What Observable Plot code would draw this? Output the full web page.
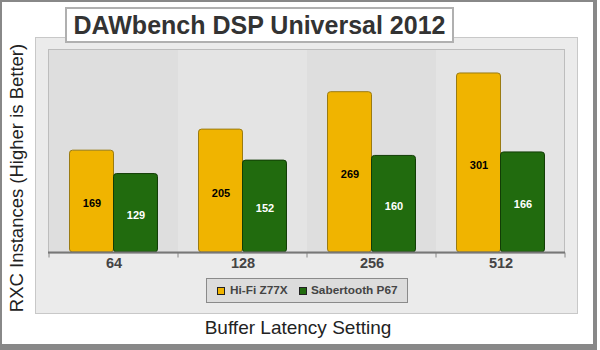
<!DOCTYPE html>
<html>
<head>
<meta charset="utf-8">
<script src="https://cdn.jsdelivr.net/npm/d3@7"></script>
<script src="https://cdn.jsdelivr.net/npm/@observablehq/plot@0.6"></script>
<style>
  html, body { margin: 0; padding: 0; background: #fff; }
  #wrap { position: relative; width: 600px; height: 350px; overflow: hidden; font-family: "Liberation Sans", Arial, sans-serif; background: #fff; }
  #frame { position: absolute; left: 0; top: 0; width: 591px; height: 342px; border-style: solid; border-color: #888; border-width: 2px 4px 6px 2px; }
  #panel { position: absolute; left: 35px; top: 37px; width: 541px; height: 275px; background: #ebebeb; border: 1px solid #c8c8c8; }
  #title { position: absolute; left: 65px; top: 7px; width: 385px; height: 32px; background: #fff; border: 2px solid #b0b0b0; text-align: center; font-weight: bold; font-size: 25px; line-height: 33px; color: #333; }
  #chart { position: absolute; left: 0; top: 0; }
  #ytitle { position: absolute; left: 17px; top: 178px; transform: translate(-50%, -50%) rotate(-90deg); white-space: nowrap; font-size: 18.5px; color: #222; }
  #xtitle { position: absolute; left: 298px; top: 328px; transform: translate(-50%, -50%); white-space: nowrap; font-size: 19px; color: #222; }
  #legend { position: absolute; left: 206px; top: 278px; width: 200px; height: 23px; background: #dcdcdc; border: 1px solid #8a8a8a; }
  .sw { position: absolute; top: 8px; width: 6px; height: 6px; border: 1px solid #222; }
  .lt { position: absolute; top: 4px; font-size: 11.8px; font-weight: bold; color: #444; white-space: nowrap; line-height: 14px; }
</style>
</head>
<body>
<div id="wrap">
  <div id="frame"></div>
  <div id="panel"></div>
  <div id="title">DAWbench DSP Universal 2012</div>
  <div id="ytitle">RXC Instances (Higher is Better)</div>
  <div id="xtitle">Buffer Latency Setting</div>
  <div id="legend"></div>
</div>
<script>
const categories = ["64", "128", "256", "512"];
const series = ["Hi-Fi Z77X", "Sabertooth P67"];
const hifiValues = [169, 205, 269, 301];
const sabertoothValues = [129, 152, 160, 166];
const yMax = 342;

const fillColors = ["#f0b400", "#216b0e"];
const strokeColors = ["#9a7b12", "#123d06"];
const labelColors = ["#000000", "#ffffff"];
const bandColors = ["#dedede", "#e4e4e4"];

const rows = [];
categories.forEach((c, i) => {
  rows.push({cat: c, series: series[0], value: hifiValues[i]});
  rows.push({cat: c, series: series[1], value: sabertoothValues[i]});
});

const chart = Plot.plot({
  width: 600,
  height: 280,
  marginLeft: 48,
  marginRight: 35,
  marginTop: 49,
  marginBottom: 31,
  style: {background: "transparent", fontFamily: "Liberation Sans, Arial, sans-serif", overflow: "visible"},
  fx: {type: "band", domain: categories, padding: 0, axis: null, label: null},
  x: {type: "band", domain: series, paddingInner: 0, paddingOuter: 0.466, round: false, axis: null},
  y: {type: "linear", domain: [0, yMax], axis: null},
  color: {domain: series, range: fillColors},
  marks: [
    Plot.barY(categories, {fx: d => d, y: () => yMax, fill: (d, i) => bandColors[i % 2], insetLeft: 0, insetRight: 0, insetBottom: -4}),
    Plot.barY(rows, {
      fx: "cat", x: "series", y: "value", fill: "series",
      stroke: d => strokeColors[series.indexOf(d.series)], strokeWidth: 1,
      rx: 3, insetBottom: -3, insetLeft: 0, insetRight: 0
    }),
    Plot.text(rows, {
      fx: "cat", x: "series", y: d => d.value / 2, text: d => String(d.value),
      fill: d => labelColors[series.indexOf(d.series)],
      fontWeight: "bold", fontSize: 11, dy: 3.5
    }),
    Plot.text(categories, {
      fx: d => d, text: d => d, frameAnchor: "bottom", lineAnchor: "middle", dy: 13.5,
      fontWeight: "bold", fontSize: 14.5, fill: "#444"
    })
  ]
});
chart.id = "chart";
document.getElementById("wrap").insertBefore(chart, document.getElementById("title"));

// frame, baseline and band-edge ticks from the library's scales
const fx = chart.scale("fx");
const ys = chart.scale("y");
const svg = d3.select(chart);
const xL = fx.range[0], xR = fx.range[1];
const yTop = ys.apply(ys.domain[1]);
const yBase = ys.apply(0) + 3.5;
svg.append("rect")
  .attr("x", xL + 0.5).attr("y", yTop + 0.5)
  .attr("width", xR - xL - 1).attr("height", yBase - yTop)
  .attr("fill", "none").attr("stroke", "#bdbdbd");
const edges = categories.map(c => fx.apply(c)).concat([xR]);
svg.append("g").selectAll("line").data(edges).join("line")
  .attr("x1", d => d).attr("x2", d => d)
  .attr("y1", yBase).attr("y2", yBase + 5)
  .attr("stroke", "#888");
svg.append("line")
  .attr("x1", xL).attr("x2", xR)
  .attr("y1", yBase).attr("y2", yBase)
  .attr("stroke", "#777").attr("stroke-width", 2);

// legend from series
const legend = document.getElementById("legend");
const swX = [10, 92];
const txX = [23, 104];
series.forEach((s, i) => {
  const sw = document.createElement("div");
  sw.className = "sw";
  sw.style.left = swX[i] + "px";
  sw.style.background = fillColors[i];
  legend.appendChild(sw);
  const t = document.createElement("div");
  t.className = "lt";
  t.style.left = txX[i] + "px";
  t.textContent = s;
  legend.appendChild(t);
});
</script>
</body>
</html>
